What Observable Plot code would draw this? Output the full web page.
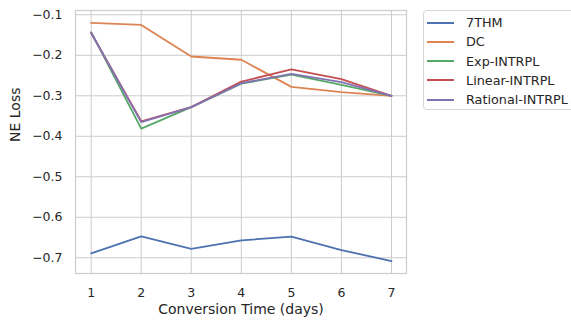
<!DOCTYPE html>
<html>
<head>
<meta charset="utf-8">
<script src="https://cdn.jsdelivr.net/npm/d3@7"></script>
<script src="https://cdn.jsdelivr.net/npm/@observablehq/plot@0.6"></script>
<style>
  html, body { margin: 0; padding: 0; background: #fff; overflow: hidden; }
  #wrap { position: relative; width: 571px; height: 323px; font-family: "DejaVu Sans", sans-serif; color: #262626; }
  #wrap svg { position: absolute; left: 0; top: 0; }
  #legend { position: absolute; left: 423px; top: 10px; width: 170px; height: 100px; box-sizing: border-box;
    border: 1px solid #d6d6d6; border-radius: 4px; background: #fff; padding-top: 2px; }
  .item { display: flex; align-items: center; height: 19px; margin-bottom: 0.3px; font-size: 12.8px; white-space: nowrap; }
  .swatch { display: inline-block; width: 27px; height: 2px; margin-left: 3px; margin-right: 12px; }
</style>
</head>
<body>
<div id="wrap"><div id="legend"></div></div>
<script>
const days = [1, 2, 3, 4, 5, 6, 7];
const seriesNames = ["7THM", "DC", "Exp-INTRPL", "Linear-INTRPL", "Rational-INTRPL"];
const thm7 = [-0.689, -0.647, -0.678, -0.657, -0.648, -0.681, -0.708];
const dc = [-0.120, -0.125, -0.203, -0.211, -0.278, -0.291, -0.300];
const expIntrpl = [-0.143, -0.381, -0.328, -0.270, -0.248, -0.273, -0.300];
const linearIntrpl = [-0.145, -0.363, -0.328, -0.265, -0.235, -0.259, -0.300];
const rationalIntrpl = [-0.145, -0.365, -0.328, -0.269, -0.246, -0.266, -0.300];
const colors = ["#4c72b0", "#dd8452", "#55a868", "#c44e52", "#8172b3"];
const yTicks = [-0.7, -0.6, -0.5, -0.4, -0.3, -0.2, -0.1];

const allSeries = [thm7, dc, expIntrpl, linearIntrpl, rationalIntrpl];
const rows = [];
allSeries.forEach((vals, i) => vals.forEach((v, j) => rows.push({series: seriesNames[i], day: days[j], value: v})));

const chart = Plot.plot({
  width: 571,
  height: 323,
  marginLeft: 75,
  marginRight: 165,
  marginTop: 10,
  marginBottom: 50,
  style: { fontFamily: "DejaVu Sans", fontSize: "12px", color: "#262626", background: "transparent" },
  x: { domain: [0.687, 7.3] },
  y: { domain: [-0.7388, -0.0894] },
  color: { domain: seriesNames, range: colors },
  marks: [
    Plot.gridX(days, { stroke: "#cccccc", strokeOpacity: 1, strokeWidth: 1 }),
    Plot.gridY(yTicks, { stroke: "#cccccc", strokeOpacity: 1, strokeWidth: 1 }),
    Plot.frame({ stroke: "#cccccc", strokeWidth: 1.2 }),
    Plot.axisX(days, { tickSize: 0, tickPadding: 15, label: null, fontSize: 12.5, fill: "#262626" }),
    Plot.axisY(yTicks, { tickSize: 0, tickPadding: 13, label: null, fontSize: 12.5, fill: "#262626", tickFormat: d3.format(".1f") }),
    Plot.text(["Conversion Time (days)"], { frameAnchor: "bottom", dy: 40, fontSize: 14, fill: "#262626" }),
    Plot.text(["NE Loss"], { frameAnchor: "left", rotate: -90, dx: -60, fontSize: 14, fill: "#262626" }),
    Plot.line(rows, { x: "day", y: "value", z: "series", stroke: "series", strokeWidth: 1.8 })
  ]
});
document.getElementById("wrap").prepend(chart);

const legend = document.getElementById("legend");
seriesNames.forEach((name, i) => {
  const it = document.createElement("div");
  it.className = "item";
  const sw = document.createElement("span");
  sw.className = "swatch";
  sw.style.background = colors[i];
  const tx = document.createElement("span");
  tx.textContent = name;
  it.append(sw, tx);
  legend.append(it);
});
</script>
</body>
</html>
